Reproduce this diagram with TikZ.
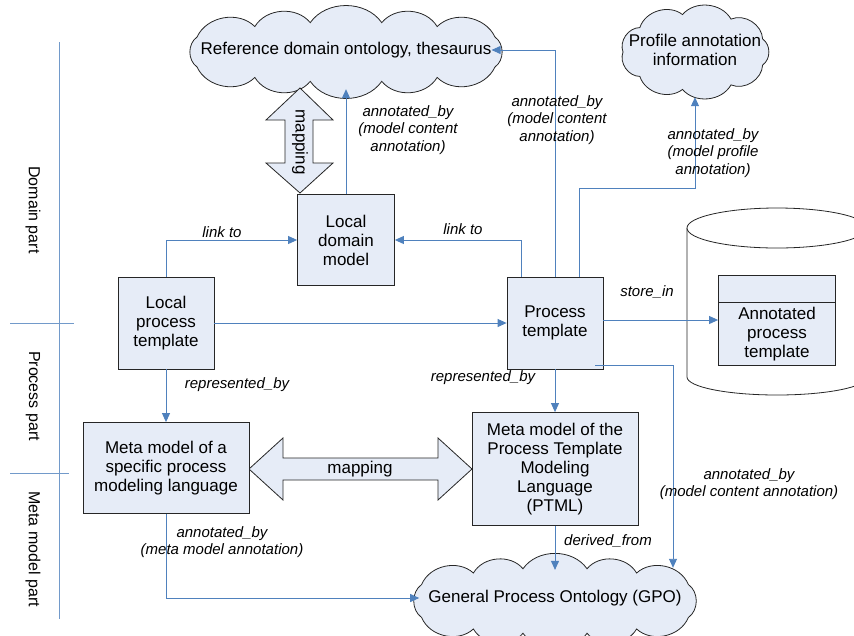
\documentclass[tikz,border=0pt]{standalone}
\usepackage{fontspec}
\setmainfont{Liberation Sans}
\usepackage{tikz}
\usetikzlibrary{positioning}
\usetikzlibrary{arrows.meta}
\definecolor{boxfill}{RGB}{230,236,247}
\definecolor{linkblue}{RGB}{79,129,189}
\newcommand{\puffcloud}[6]{%
  \filldraw[fat] ({#1+#3*cos(#5)},{#2+#4*sin(#5)})
    \foreach \t in {#6} { to[bend left=55] ({#1+#3*cos(\t)},{#2+#4*sin(\t)}) } -- cycle;}

\begin{document}
\begin{tikzpicture}[x=1pt, y=-1pt,
            box/.style = {draw=black!85, fill=boxfill, line width=0.8pt, align=center, inner sep=0pt, font=\fontsize{17}{19}\selectfont},
            area/.style = {inner sep=0pt, draw=none},
            big/.style = {font=\fontsize{17}{19}\selectfont, align=center, inner sep=0pt},
            lbl/.style = {font=\fontsize{15}{17.5}\selectfont\itshape, align=center, inner sep=0pt},
            part/.style = {font=\fontsize{16}{19}\selectfont, rotate=-90, inner sep=0pt},
            conn/.style = {draw=linkblue, line width=0.9pt, -{Triangle[length=9pt,width=8pt]}},
            fat/.style = {draw=black!85, fill=boxfill, line width=0.8pt, line join=miter},
            divider/.style = {draw=linkblue!80, line width=0.8pt}]
            \useasboundingbox (0,0) rectangle (854,635);
            \draw[divider] (59,42) -- (59,619);
            \draw[divider] (10,323) -- (74,323);
            \draw[divider] (10,473) -- (69,473);
            \node[part](dom) at (33,210) {Domain part};
            \node[part](proc) at (33,396) {Process part};
            \node[part](meta) at (33,549) {Meta model part};
            \puffcloud{346}{52}{172}{30}{30}{58,78,102,122,150,210,238,258,282,302,330,390}
            \node[area, minimum width=342pt, minimum height=74pt](ref) at (346,52) {};
            \node[big](refT) at (346,50) {Reference domain ontology, thesaurus};
            \puffcloud{695}{52}{72}{38}{20}{60,100,140,180,220,260,300,340,380}
            \node[area, minimum width=156pt, minimum height=90pt](prof) at (695,52) {};
            \node[big](profT) at (695,50) {Profile annotation\\information};
            \puffcloud{555}{601}{154}{33}{30}{58,78,102,122,150,210,238,258,282,302,330,390}
            \node[area, minimum width=304pt, minimum height=82pt](gpo) at (555,601) {};
            \node[big](gpoT) at (555,598) {General Process Ontology (GPO)};
            \draw[fat] (300,88) -- (333,120) -- (313,120) -- (313,163) -- (333,163) -- (300,193)
                -- (266,163) -- (285,163) -- (285,120) -- (266,120) -- cycle;
            \node[big, rotate=-90](mapV) at (300,142) {mapping};
            \draw[fat] (249,469) -- (283,438) -- (283,458) -- (438,458) -- (438,438) -- (472,469)
                -- (438,500) -- (438,480) -- (283,480) -- (283,500) -- cycle;
            \node[big](mapH) at (360,469) {mapping};
            \draw[fat, fill=white] (687,228) -- (687,377) arc[start angle=180, end angle=360, x radius=90pt, y radius=18pt] -- (867,228);
            \draw[fat, fill=white] (777,228) ellipse[x radius=90pt, y radius=20pt];
            \node[box, minimum width=117pt, minimum height=90pt](apt) at (777,320) {};
            \draw[draw=black!85, line width=0.8pt] ([yshift=-28pt]apt.north west) -- ([yshift=-28pt]apt.north east);
            \node[big](aptT) at (777,334) {Annotated\\process\\template};
            \node[box, minimum width=97pt, minimum height=91pt](ldm) at (346,240) {Local\\domain\\model};
            \node[box, minimum width=96pt, minimum height=92pt](lpt) at (166,323) {Local\\process\\template};
            \node[box, minimum width=96pt, minimum height=92pt](pt) at (555,323) {Process\\template};
            \node[box, minimum width=166pt, minimum height=91pt](mms) at (166,468) {Meta model of a\\specific process\\modeling language};
            \node[box, minimum width=166pt, minimum height=113pt](ptml) at (555,469) {Meta model of the\\Process Template\\Modeling\\Language\\(PTML)};
            \draw[conn] (ldm.north) -- (ldm.north |- ref.south);
            \draw[conn] (pt.north) |- (refT.east);
            \draw[conn] ([xshift=24pt]pt.north) -- ++(0,-88) -| (prof.south);
            \draw[conn] (lpt.north) |- (ldm.west);
            \draw[conn] ([xshift=-34pt]pt.north) |- (ldm.east);
            \draw[conn] (lpt.east) -- (pt.west);
            \draw[conn] (pt.east |- apt.west) -- (apt.west);
            \draw[conn] (lpt.south) -- (mms.north);
            \draw[conn] (pt.south) -- (ptml.north);
            \draw[conn] ([xshift=40pt,yshift=4pt]pt.south) -| ([xshift=118pt,yshift=-8pt]gpo.north);
            \draw[conn] (ptml.south) -- ++(0,44);
            \draw[conn] (mms.south) |- ([xshift=-9pt]gpoT.west);
            \node[lbl](annA) at (408,130) {annotated\_by\\(model content\\annotation)};
            \node[lbl](annB) at (557,120) {annotated\_by\\(model content\\annotation)};
            \node[lbl](annC) at (713,153) {annotated\_by\\(model profile\\annotation)};
            \node[lbl](linkA) at (222,232) {link to};
            \node[lbl](linkB) at (463,229) {link to};
            \node[lbl](store) at (647,292) {store\_in};
            \node[lbl](repA) at (237,385) {represented\_by};
            \node[lbl](repB) at (483,378) {represented\_by};
            \node[lbl](annD) at (222,542) {annotated\_by\\(meta model annotation)};
            \node[lbl](deriv) at (608,541) {derived\_from};
            \node[lbl](annE) at (749,484) {annotated\_by\\(model content annotation)};
        \end{tikzpicture}
\end{document}
